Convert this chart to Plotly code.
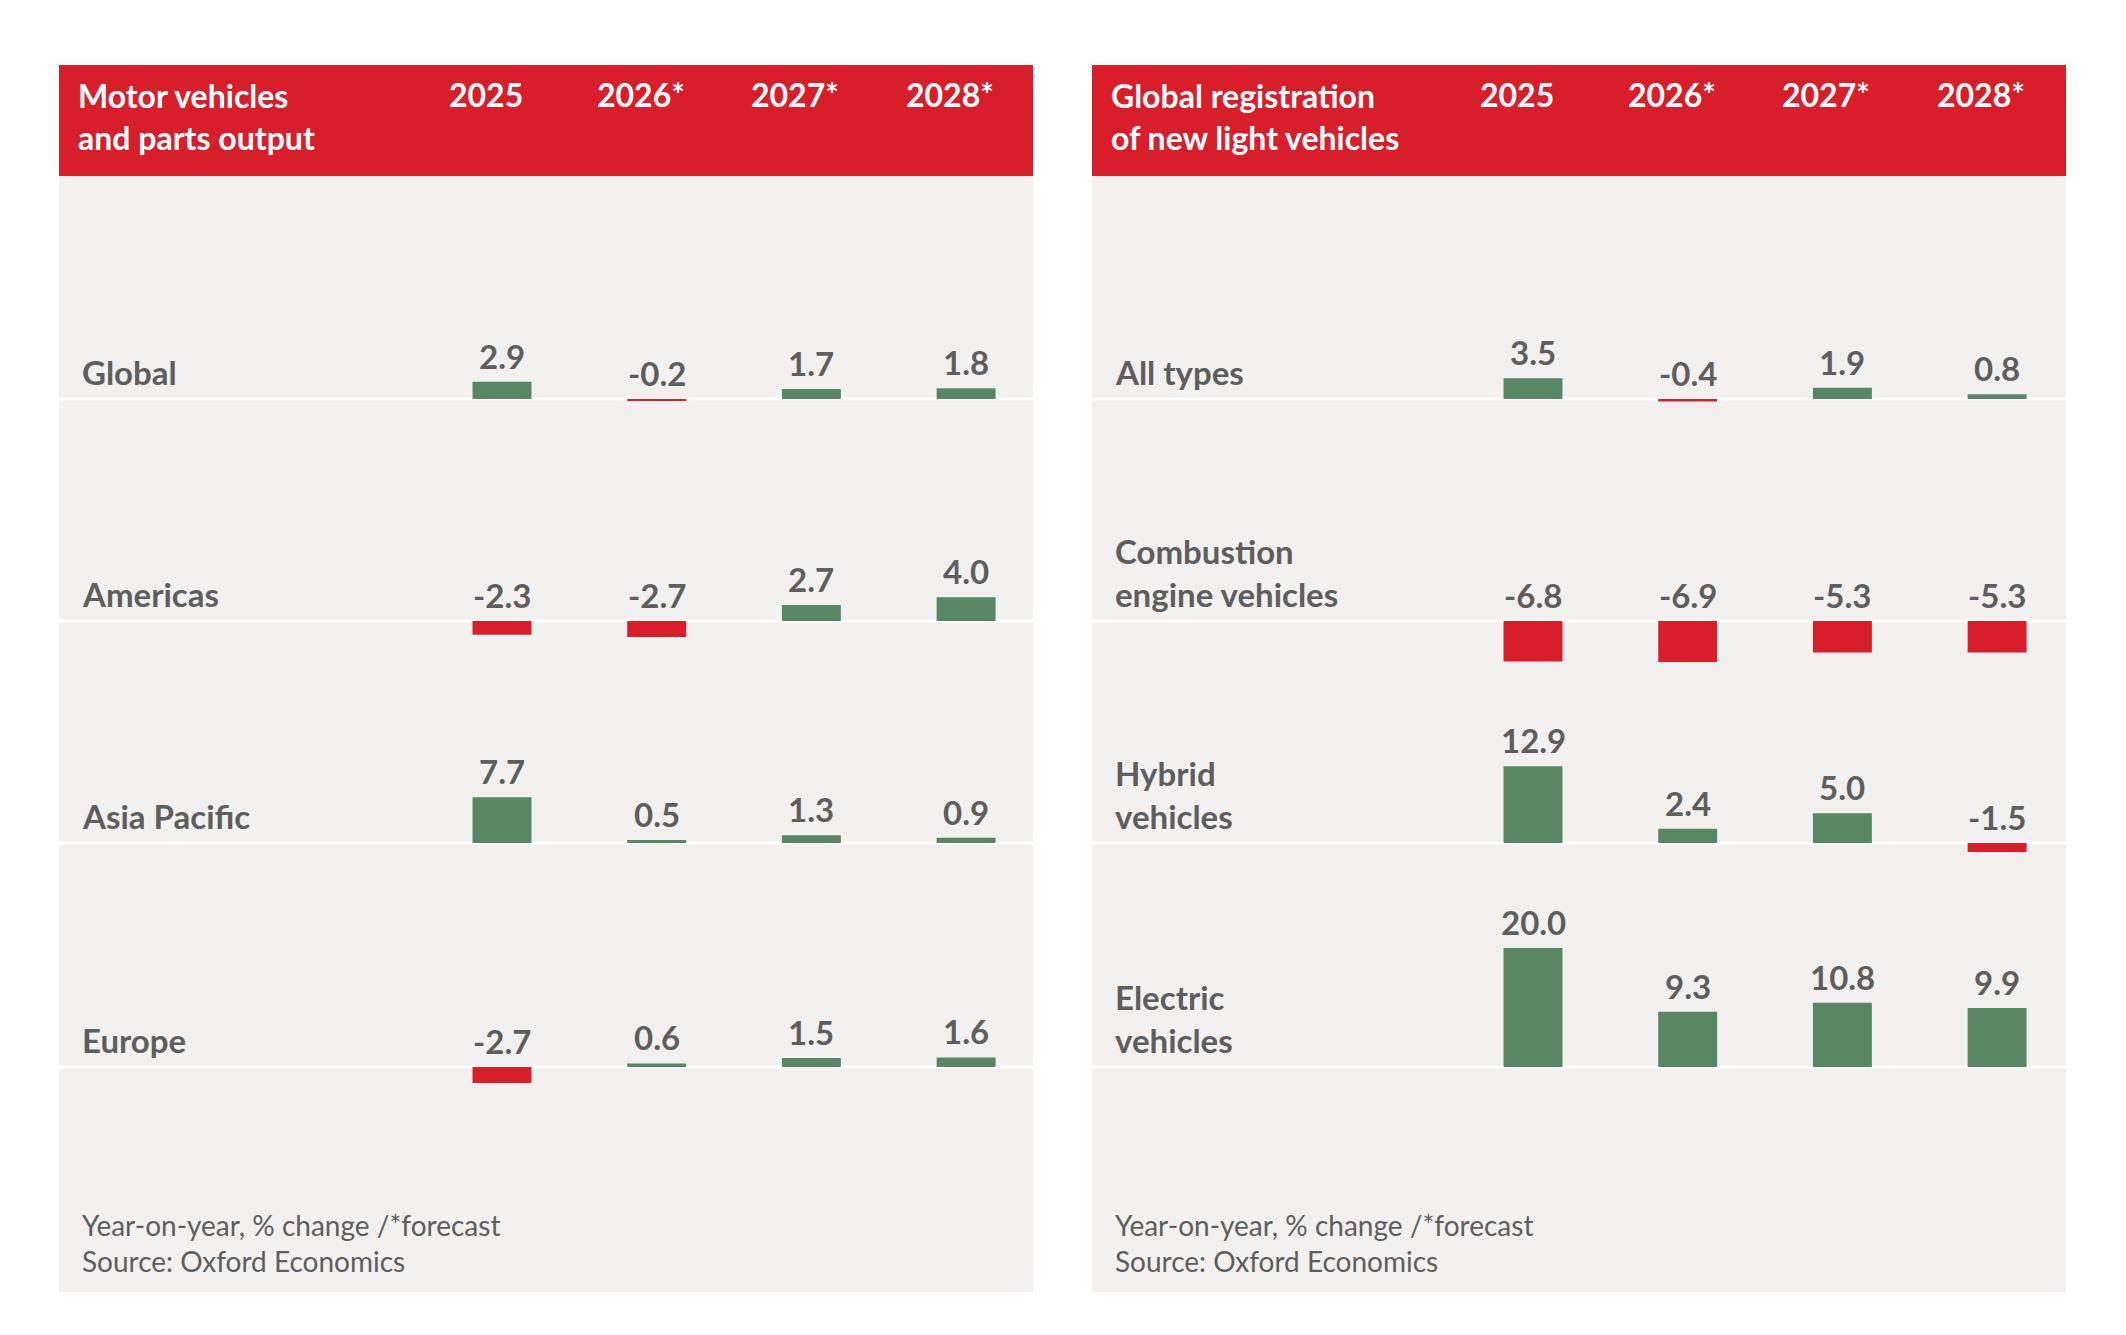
import plotly.graph_objects as go

W, H = 2126, 1335
PXU = 5.95  # pixels per percentage point

years = ["2025", "2026*", "2027*", "2028*"]

# left panel: motor vehicles and parts output
output_rows = ["Global", "Americas", "Asia Pacific", "Europe"]
global_out = [2.9, -0.2, 1.7, 1.8]
americas_out = [-2.3, -2.7, 2.7, 4.0]
asia_out = [7.7, 0.5, 1.3, 0.9]
europe_out = [-2.7, 0.6, 1.5, 1.6]

# right panel: global registration of new light vehicles
reg_rows = ["All types", "Combustion<br>engine vehicles", "Hybrid<br>vehicles", "Electric<br>vehicles"]
all_types = [3.5, -0.4, 1.9, 0.8]
combustion = [-6.8, -6.9, -5.3, -5.3]
hybrid = [12.9, 2.4, 5.0, -1.5]
electric = [20.0, 9.3, 10.8, 9.9]

RED = "#D91E2B"
GREEN = "#5A8763"
GREY_TXT = "#5E5E5E"
PANEL_BG = "#F2F1EF"
FONT = "Lato"


def py(px):
    # pixel from top -> y data value
    return (H - px) / PXU


row_px = [399, 621, 843, 1067]
panels = [
    dict(x0=59, x1=1033, xaxis="x", title="Motor vehicles<br>and parts output",
         rows=output_rows, vals=[global_out, americas_out, asia_out, europe_out]),
    dict(x0=1092, x1=2066, xaxis="x2", title="Global registration<br>of new light vehicles",
         rows=reg_rows, vals=[all_types, combustion, hybrid, electric]),
]

fig = go.Figure()
shapes = []
annotations = []

for p in panels:
    # panel background + red header
    shapes.append(dict(type="rect", xref="paper", yref="paper", layer="below",
                       x0=p["x0"] / W, x1=p["x1"] / W, y0=1 - 1292 / H, y1=1 - 65 / H,
                       fillcolor=PANEL_BG, line_width=0))
    shapes.append(dict(type="rect", xref="paper", yref="paper", layer="below",
                       x0=p["x0"] / W, x1=p["x1"] / W, y0=1 - 176 / H, y1=1 - 65 / H,
                       fillcolor=RED, line_width=0))
    annotations.append(dict(text=p["title"], xref="paper", yref="y", x=(p["x0"] + 17) / W,
                            y=py(159), xanchor="left", yanchor="bottom", align="left",
                            showarrow=False, font=dict(family=FONT, size=32, color="white", weight=700)))
    for i, yr in enumerate(years):
        annotations.append(dict(text=yr, xref=p["xaxis"], yref="y", x=i, xshift=-16, y=py(116),
                                yanchor="bottom", showarrow=False,
                                font=dict(family=FONT, size=32, color="white", weight=700)))
    annotations.append(dict(text="Year-on-year, % change /*forecast<br>Source: Oxford Economics",
                            xref="paper", yref="y", x=(p["x0"] + 21) / W, y=py(1280),
                            xanchor="left", yanchor="bottom", align="left", showarrow=False,
                            font=dict(family=FONT, size=28, color=GREY_TXT, weight=400)))

    for r, (name, vals) in enumerate(zip(p["rows"], p["vals"])):
        base = py(row_px[r])
        shapes.append(dict(type="line", xref="paper", yref="y", layer="below",
                           x0=p["x0"] / W, x1=p["x1"] / W, y0=base, y1=base,
                           line=dict(color="white", width=3)))
        fig.add_trace(go.Bar(
            x=years, y=vals, base=[base] * len(vals),
            width=0.381,
            marker=dict(color=[GREEN if v >= 0 else RED for v in vals], line_width=0),
            xaxis=p["xaxis"], yaxis="y", showlegend=False, hoverinfo="skip",
        ))
        annotations.append(dict(text=name, xref="paper", yref="y", x=(p["x0"] + 21) / W,
                                y=base, yshift=5, xanchor="left", yanchor="bottom", align="left",
                                showarrow=False,
                                font=dict(family=FONT, size=33, color=GREY_TXT, weight=700)))
        for i, v in enumerate(vals):
            annotations.append(dict(text=f"{v:.1f}", xref=p["xaxis"], yref="y", x=i,
                                    y=base + max(v, 0), yshift=4, yanchor="bottom",
                                    showarrow=False,
                                    font=dict(family=FONT, size=33, color=GREY_TXT, weight=700)))

step = 154.7
span = 974 / step
fig.update_layout(
    width=W, height=H,
    margin=dict(l=0, r=0, t=0, b=0),
    paper_bgcolor="white", plot_bgcolor="rgba(0,0,0,0)",
    barmode="overlay",
    shapes=shapes, annotations=annotations,
    xaxis=dict(domain=[59 / W, 1033 / W], range=[-(502 - 59) / step, -(502 - 59) / step + span],
               visible=False, type="category", anchor="y"),
    xaxis2=dict(domain=[1092 / W, 2066 / W], range=[-(1533 - 1092) / step, -(1533 - 1092) / step + span],
                visible=False, type="category", anchor="y"),
    yaxis=dict(domain=[0, 1], range=[0, H / PXU], visible=False),
)

# drop the browser's default body margin so the figure sits at the page origin
fig.write_html("out.html", config={"displayModeBar": False},
               post_script="document.body.style.margin='0';")
